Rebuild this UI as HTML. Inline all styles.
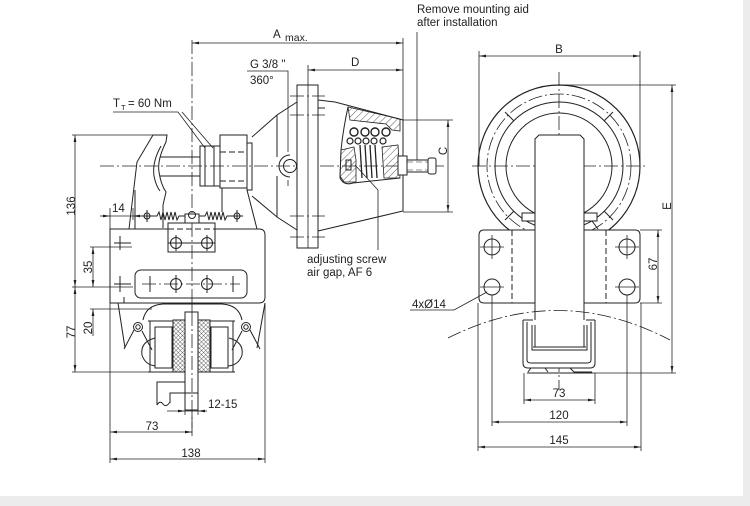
<!DOCTYPE html>
<html><head><meta charset="utf-8">
<style>
html,body{margin:0;padding:0;background:#ececec;width:750px;height:506px;overflow:hidden;}
#c{position:absolute;left:0;top:0;width:743px;height:496px;background:#fff;}
svg{position:absolute;left:0;top:0;}
text{font-family:"Liberation Sans",Arial,sans-serif;font-size:11.5px;fill:#222;stroke:none;}
.cl{stroke-dasharray:14 3 2 3;stroke-width:.8;}
.dl{stroke-width:.8;}
.ds{stroke-dasharray:6 3;}
</style></head><body><div id="c"></div>
<svg width="750" height="506" viewBox="0 0 750 506">
<defs>
<marker id="ar" viewBox="0 0 10 4" refX="10" refY="2" markerWidth="7" markerHeight="2.8" markerUnits="userSpaceOnUse" orient="auto-start-reverse"><path d="M0,0L10,2L0,4z" fill="#222"/></marker>
<pattern id="h" width="5" height="5" patternUnits="userSpaceOnUse" patternTransform="rotate(45)"><line x1="0" y1="0" x2="0" y2="5" stroke="#333" stroke-width="0.8"/></pattern>
<pattern id="xh" width="3" height="3" patternUnits="userSpaceOnUse" patternTransform="rotate(45)"><path d="M0,0V3M0,0H3" stroke="#333" stroke-width="0.7"/></pattern>
<clipPath id="ringclip"><rect x="440" y="60" width="220" height="170"/></clipPath>
</defs>

<g fill="none" stroke="#222" stroke-width="1">
<!-- ================= LEFT VIEW ================= -->
<!-- centerlines -->
<line class="cl" x1="192" y1="40" x2="192" y2="436"/>
<line class="cl" x1="100" y1="166" x2="445" y2="166"/>

<!-- A max -->
<line class="dl" x1="192" y1="43" x2="403" y2="43" marker-start="url(#ar)" marker-end="url(#ar)"/>
<line class="dl" x1="403" y1="38" x2="403" y2="120"/>
<!-- D -->
<line class="dl" x1="308" y1="70" x2="403" y2="70" marker-start="url(#ar)" marker-end="url(#ar)"/>
<line class="dl" x1="308" y1="65" x2="308" y2="96"/>
<!-- G leader -->
<polyline class="dl" points="247,71 288,71 288,152"/>
<line class="dl" x1="288" y1="180" x2="288" y2="186"/>
<!-- T leader -->
<polyline class="dl" points="113,112 178,112 205,148"/>
<line class="dl" x1="182" y1="112" x2="213" y2="148"/>
<!-- Remove leader -->
<line class="dl" x1="417" y1="32" x2="417" y2="160"/>
<!-- C dimension -->
<line class="dl" x1="448" y1="120" x2="448" y2="212" marker-start="url(#ar)" marker-end="url(#ar)"/>
<line class="dl" x1="403" y1="120" x2="453" y2="120"/>
<line class="dl" x1="403" y1="212" x2="453" y2="212"/>
<!-- adjusting screw leader -->
<polyline class="dl" points="355,165 378,190 378,250"/>

<!-- hook -->
<path d="M153,135 L167,135 L166,142 Q157,160 159,172 Q161,185 166,192 L163,205 L163,228"/>
<path d="M153,135 L137,162 L129,229"/>
<path d="M161,146 Q152,162 154,176 Q156,186 160,191"/>
<line x1="135" y1="190" x2="135" y2="229"/>
<!-- shaft -->
<line x1="160" y1="157" x2="200" y2="157"/>
<line x1="160" y1="176" x2="200" y2="176"/>
<!-- nut -->
<rect x="200" y="146" width="20" height="40"/>
<line x1="205" y1="146" x2="205" y2="186"/>
<line x1="214" y1="146" x2="214" y2="186"/>
<!-- block -->
<rect x="220" y="135" width="27" height="53"/>
<line class="ds" x1="220" y1="152" x2="247" y2="152"/>
<line class="ds" x1="220" y1="181" x2="247" y2="181"/>
<rect x="247" y="143" width="5" height="47"/>
<line x1="222" y1="188" x2="222" y2="212"/>
<line x1="247" y1="190" x2="257" y2="229"/>
<!-- cone left -->
<polyline points="252,137 277,115 297,102"/>
<polyline points="252,196 277,217 297,230"/>
<line x1="277" y1="115" x2="277" y2="157"/>
<line x1="277" y1="176" x2="277" y2="217"/>
<circle cx="290" cy="166" r="6.5"/>
<path d="M290,155 A11,11 0 0 0 290,177"/>
<!-- flange -->
<rect x="297" y="85" width="21" height="163" fill="#fff"/>
<line class="cl" x1="290" y1="96" x2="325" y2="96"/>
<line class="cl" x1="290" y1="115" x2="325" y2="115"/>
<line class="cl" x1="290" y1="216" x2="325" y2="216"/>
<line class="cl" x1="290" y1="237" x2="325" y2="237"/>
<line class="dl" x1="308" y1="85" x2="308" y2="248"/>
<line x1="318" y1="108" x2="325" y2="108"/>
<!-- right housing -->
<polyline points="318,100 335,102 403,120 403,211 318,231"/>
<!-- cutaway -->
<path d="M348,107 Q343,130 341,150 L340,178 Q344,186 353,183 L400,178" />
<polygon points="348,107 400,119 400,131 392,130 386,124 350,120" fill="url(#h)" stroke-width=".8"/>
<polygon points="341,150 354,147 356,160 356,182 344,182 340,176" fill="url(#h)" stroke-width=".8"/>
<polygon points="382,147 398,145 400,178 384,178" fill="url(#h)" stroke-width=".8"/>
<circle cx="354" cy="132" r="4" stroke-width="1.4"/>
<circle cx="365" cy="132" r="4" stroke-width="1.4"/>
<circle cx="375" cy="132" r="4" stroke-width="1.4"/>
<circle cx="386" cy="132" r="4" stroke-width="1.4"/>
<circle cx="350" cy="141" r="3" stroke-width="1.2"/>
<circle cx="358" cy="141" r="3" stroke-width="1.2"/>
<circle cx="366" cy="141" r="3" stroke-width="1.2"/>
<circle cx="374" cy="141" r="3" stroke-width="1.2"/>
<circle cx="383" cy="141" r="3" stroke-width="1.2"/>
<line x1="360" y1="145" x2="362" y2="178" stroke-width="1.3"/>
<line x1="365" y1="145" x2="367" y2="178" stroke-width="1.3"/>
<line x1="370" y1="145" x2="372" y2="178" stroke-width="1.3"/>
<line x1="375" y1="145" x2="377" y2="178" stroke-width="1.3"/>
<rect x="346" y="160" width="5" height="10"/>
<!-- screw -->
<rect x="398" y="156" width="9" height="19" fill="#fff"/>
<rect x="407" y="160" width="21" height="12" fill="#fff"/>
<line class="ds" x1="407" y1="162" x2="428" y2="162" stroke-width=".6"/>
<line class="ds" x1="407" y1="170" x2="428" y2="170" stroke-width=".6"/>
<rect x="428" y="158" width="8" height="16" rx="2" fill="#fff"/>

<!-- spring line -->
<circle cx="147" cy="216" r="3"/>
<line x1="141" y1="216" x2="153" y2="216"/><line x1="147" y1="210" x2="147" y2="222"/>
<circle cx="237" cy="216" r="3"/>
<line x1="231" y1="216" x2="243" y2="216"/><line x1="237" y1="210" x2="237" y2="222"/>
<polyline points="150,216 157,216 159,212 161,220 163,212 165,220 167,212 169,220 171,212 173,220 175,212 177,220 179,216 186,216"/>
<polyline points="198,216 205,216 207,212 209,220 211,212 213,220 215,212 217,220 219,212 221,220 223,212 225,220 227,216 234,216"/>
<rect x="185" y="214" width="14" height="10" fill="#fff"/>
<circle cx="192" cy="215" r="3.5"/>
<!-- 14 dimension -->
<line class="dl" x1="100" y1="216" x2="110" y2="216" marker-end="url(#ar)"/>
<line class="dl" x1="143" y1="216" x2="133" y2="216" marker-end="url(#ar)"/>
<line class="dl" x1="110" y1="216" x2="133" y2="216"/>
<line class="dl" x1="110" y1="208" x2="110" y2="229"/>
<line class="dl" x1="133" y1="208" x2="133" y2="220"/>

<!-- housing -->
<path d="M110,229 L259,229 Q265,229 265,235 L265,297 Q265,303 259,303 L110,303 Z" fill="#fff"/>
<rect x="135" y="270" width="112" height="28" rx="6"/>
<circle cx="176" cy="284" r="5.5"/><circle cx="207" cy="284" r="5.5"/>
<line class="cl" x1="142" y1="284" x2="240" y2="284"/>
<line x1="150" y1="276" x2="150" y2="292"/><line x1="233" y1="276" x2="233" y2="292"/>
<line x1="176" y1="275" x2="176" y2="293"/><line x1="207" y1="275" x2="207" y2="293"/>
<rect x="168" y="223" width="47" height="29" fill="#fff"/>
<line class="ds" x1="168" y1="229" x2="215" y2="229"/>
<circle cx="176" cy="243" r="5.5"/><circle cx="207" cy="243" r="5.5"/>
<line x1="176" y1="235" x2="176" y2="251"/><line x1="207" y1="235" x2="207" y2="251"/>
<line x1="168" y1="243" x2="215" y2="243"/>
<line class="cl" x1="192" y1="223" x2="192" y2="303"/>
<!-- small marks left -->
<path d="M120,236 V250 M114,243 H131 M120,276 V292 M114,284 H131 M124,297 V303"/>

<!-- left dimensions -->
<line class="dl" x1="75" y1="135" x2="75" y2="287" marker-start="url(#ar)" marker-end="url(#ar)"/>
<line class="dl" x1="75" y1="287" x2="75" y2="372" marker-start="url(#ar)" marker-end="url(#ar)"/>
<line class="dl" x1="72" y1="135" x2="153" y2="135"/>
<line class="dl" x1="72" y1="287" x2="133" y2="287"/>
<line class="dl" x1="72" y1="372" x2="152" y2="372"/>
<line class="dl" x1="93" y1="247" x2="93" y2="287" marker-start="url(#ar)" marker-end="url(#ar)"/>
<line class="dl" x1="93" y1="309" x2="93" y2="336" marker-start="url(#ar)"/>
<line class="dl" x1="90" y1="247" x2="132" y2="247"/>
<line class="dl" x1="90" y1="309" x2="152" y2="309"/>

<!-- shoe / hood -->
<line x1="118" y1="303" x2="125" y2="348"/>
<line x1="265" y1="303" x2="257" y2="348"/>
<path d="M143,320 Q146,305 163,304 L222,304 Q239,305 242,320"/>
<circle cx="138" cy="327" r="4.5"/><circle cx="138" cy="327" r="2.2"/>
<circle cx="246" cy="327" r="4.5"/><circle cx="246" cy="327" r="2.2"/>
<line x1="134" y1="330" x2="124" y2="349"/><line x1="142" y1="331" x2="152" y2="350"/>
<line x1="242" y1="331" x2="232" y2="350"/><line x1="250" y1="330" x2="260" y2="349"/>
<path d="M155,338 Q140,342 142,355 Q145,365 156,366"/>
<path d="M229,338 Q244,342 242,355 Q239,365 228,366"/>
<!-- coil boxes -->
<path d="M148,321 H173 M150,321 V372 M148,372 H175 M155,327 H172 V368 H155 Z" fill="#fff"/>
<path d="M210,321 H235 M233,321 V372 M208,372 H235 M211,327 H228 V368 H211 Z" fill="#fff"/>
<line x1="150" y1="321" x2="150" y2="372"/>
<line x1="233" y1="321" x2="233" y2="372"/>
<rect x="173" y="320" width="12" height="52" fill="url(#xh)"/>
<rect x="198" y="320" width="12" height="52" fill="url(#xh)"/>
<!-- rail -->
<rect x="185" y="312" width="13" height="98" fill="#fff"/>
<line class="cl" x1="192" y1="312" x2="192" y2="436"/>
<!-- bracket below -->
<path d="M157,405 V382 H185 M170,403 V393 H198"/>
<path d="M157,405 q3,-5 6,-1 t7,-2"/>
<!-- 12-15 -->
<line class="dl" x1="185" y1="395" x2="185" y2="415"/>
<line class="dl" x1="198" y1="395" x2="198" y2="415"/>
<line class="dl" x1="167" y1="411" x2="185" y2="411" marker-end="url(#ar)"/>
<line class="dl" x1="207" y1="411" x2="198" y2="411" marker-end="url(#ar)"/>
<line class="dl" x1="185" y1="411" x2="198" y2="411"/>
<!-- 73 / 138 -->
<line class="dl" x1="110" y1="303" x2="110" y2="463"/>
<line class="dl" x1="265" y1="303" x2="265" y2="463"/>
<line class="dl" x1="110" y1="432" x2="192" y2="432" marker-start="url(#ar)" marker-end="url(#ar)"/>
<line class="dl" x1="110" y1="459" x2="265" y2="459" marker-start="url(#ar)" marker-end="url(#ar)"/>

<!-- ================= RIGHT VIEW ================= -->
<g clip-path="url(#ringclip)">
<circle cx="559" cy="166" r="81" stroke-width="1.2"/>
<circle class="cl" cx="559" cy="166" r="72"/>
<circle cx="559" cy="166" r="64"/>
<circle cx="559" cy="166" r="53"/>
</g>
<path d="M514,121 L505,112 M604,121 L613,112 M514,211 L505,220 M604,211 L613,220"/>
<line class="cl" x1="559" y1="72" x2="559" y2="390"/>
<line class="cl" x1="472" y1="166" x2="648" y2="166"/>
<!-- pins -->
<rect x="522" y="213" width="13" height="8" fill="#fff"/>
<rect x="584" y="213" width="13" height="8" fill="#fff"/>
<path d="M592,221 L598,229"/>
<!-- rail -->
<path d="M535,348 V139 L539,135 H580 L584,139 V348" fill="#fff"/>
<!-- base plate -->
<path d="M535,230 H484 Q479,230 479,235 V298 Q479,303 484,303 H535"/>
<path d="M584,230 H635 Q640,230 640,235 V298 Q640,303 635,303 H584"/>
<line class="ds" x1="512" y1="230" x2="512" y2="303"/>
<line class="ds" x1="606" y1="230" x2="606" y2="303"/>
<circle cx="492" cy="247" r="8"/><circle cx="627" cy="247" r="8"/>
<circle cx="492" cy="287" r="8"/><circle cx="627" cy="287" r="8"/>
<path class="dl" d="M480,247 H504 M492,235 V259 M615,247 H639 M627,235 V259 M480,287 H504 M615,287 H639"/>
<!-- arc -->
<path class="cl" d="M448,338 Q559,282 670,340"/>
<!-- clamp -->
<path d="M523,320 H533 M586,320 H595 M523,320 V363 Q523,368 528,368 H590 Q595,368 595,363 V320" fill="#fff"/>
<path d="M527,322 V360 Q527,363 531,363 H587 Q591,363 591,360 V322"/>
<path d="M532,325 V350 H587 V325"/>
<line x1="533" y1="347" x2="586" y2="347"/>
<line x1="535" y1="325" x2="535" y2="347"/>
<line x1="584" y1="325" x2="584" y2="347"/>
<path d="M528,372 L531,368 H545 L548,372 M570,368 L574,372 H592"/>
<line x1="527" y1="373" x2="593" y2="373"/>
<!-- right dims -->
<line class="dl" x1="479" y1="51" x2="479" y2="166"/>
<line class="dl" x1="640" y1="51" x2="640" y2="166"/>
<line class="dl" x1="479" y1="56" x2="640" y2="56" marker-start="url(#ar)" marker-end="url(#ar)"/>
<line class="dl" x1="560" y1="85" x2="676" y2="85"/>
<line class="dl" x1="593" y1="373" x2="676" y2="373"/>
<line class="dl" x1="672" y1="85" x2="672" y2="373" marker-start="url(#ar)" marker-end="url(#ar)"/>
<line class="dl" x1="640" y1="230" x2="662" y2="230"/>
<line class="dl" x1="640" y1="303" x2="662" y2="303"/>
<line class="dl" x1="658" y1="230" x2="658" y2="303" marker-start="url(#ar)" marker-end="url(#ar)"/>
<line class="dl" x1="524" y1="373" x2="524" y2="404"/>
<line class="dl" x1="595" y1="373" x2="595" y2="404"/>
<line class="dl" x1="524" y1="400" x2="595" y2="400" marker-start="url(#ar)" marker-end="url(#ar)"/>
<line class="dl" x1="492" y1="295" x2="492" y2="426"/>
<line class="dl" x1="627" y1="295" x2="627" y2="426"/>
<line class="dl" x1="492" y1="422" x2="627" y2="422" marker-start="url(#ar)" marker-end="url(#ar)"/>
<line class="dl" x1="478" y1="303" x2="478" y2="451"/>
<line class="dl" x1="641" y1="303" x2="641" y2="451"/>
<line class="dl" x1="478" y1="447" x2="641" y2="447" marker-start="url(#ar)" marker-end="url(#ar)"/>
<!-- 4xØ14 leader -->
<polyline class="dl" points="410,310 454,310 487,292" />
</g>

<!-- ================= TEXT ================= -->
<text x="273" y="38">A</text>
<text x="285" y="41" style="font-size:10.5px">max.</text>
<text x="250" y="68">G 3/8 "</text>
<text x="250" y="84">360°</text>
<text x="351" y="66">D</text>
<text x="113" y="107">T</text>
<text x="121" y="110" style="font-size:7.5px">T</text>
<text x="128" y="107">= 60 Nm</text>
<text x="417" y="13">Remove mounting aid</text>
<text x="417" y="26">after installation</text>
<text x="307" y="263">adjusting screw</text>
<text x="307" y="276">air gap, AF 6</text>
<text transform="translate(447,151) rotate(-90)" text-anchor="middle">C</text>
<text transform="translate(75,206) rotate(-90)" text-anchor="middle">136</text>
<text transform="translate(75,332) rotate(-90)" text-anchor="middle">77</text>
<text transform="translate(92,267) rotate(-90)" text-anchor="middle">35</text>
<text transform="translate(92,328) rotate(-90)" text-anchor="middle">20</text>
<text x="112" y="212">14</text>
<text x="208" y="408">12-15</text>
<text x="152" y="430" text-anchor="middle">73</text>
<text x="191" y="457" text-anchor="middle">138</text>
<text x="559" y="53" text-anchor="middle">B</text>
<text transform="translate(671,206) rotate(-90)" text-anchor="middle">E</text>
<text transform="translate(657,264) rotate(-90)" text-anchor="middle">67</text>
<text x="412" y="308">4xØ14</text>
<text x="559" y="397" text-anchor="middle">73</text>
<text x="559" y="419" text-anchor="middle">120</text>
<text x="559" y="444" text-anchor="middle">145</text>
</svg>
</body></html>
